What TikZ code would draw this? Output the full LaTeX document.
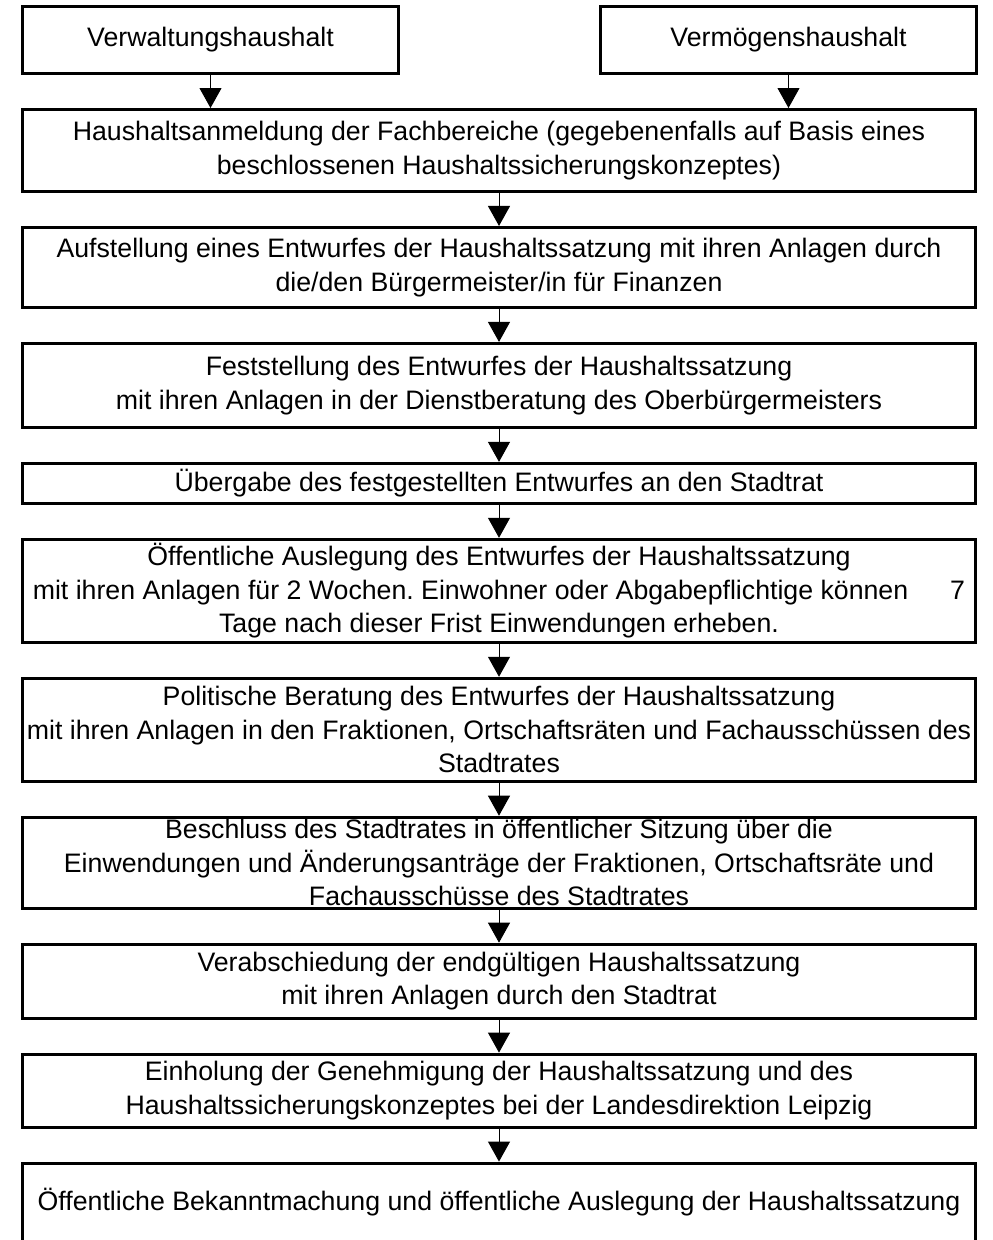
\documentclass[tikz,border=0pt]{standalone}
\usepackage{fontspec}
\setmainfont{Liberation Sans}
\frenchspacing
\usetikzlibrary{arrows.meta,positioning}

\begin{document}
\begin{tikzpicture}[->, >={Triangle[length=0.5cm,width=0.55cm]}, line width=0.7pt, node distance=0.825cm]
    \tikzstyle{box}=[draw=black,line width=2.1pt,align=center,inner sep=0pt,font=\fontsize{19}{23.8}\selectfont,minimum width=23.825cm]
    \tikzstyle{topbox}=[box,minimum width=9.4cm,minimum height=1.675cm]

    \useasboundingbox (0,0) rectangle (24.825,-31);

    \node[topbox] (VW) at (5.2625,-1.0)  {Verwaltungshaushalt};
    \node[topbox] (VM) at (19.7125,-1.0) {Vermögenshaushalt};

    \node[box,minimum height=2.05cm,anchor=north] (b1) at (12.475,-2.7)
        {Haushaltsanmeldung der Fachbereiche (gegebenenfalls auf Basis eines\\beschlossenen Haushaltssicherungskonzeptes)};
    \node[box,minimum height=2.0cm]   (b2)[below=of b1]
        {Aufstellung eines Entwurfes der Haushaltssatzung mit ihren Anlagen durch\\die/den Bürgermeister/in für Finanzen};
    \node[box,minimum height=2.1cm]   (b3)[below=of b2]
        {Feststellung des Entwurfes der Haushaltssatzung\\mit ihren Anlagen in der Dienstberatung des Oberbürgermeisters};
    \node[box,minimum height=1.0cm]   (b4)[below=of b3]
        {Übergabe des festgestellten Entwurfes an den Stadtrat};
    \node[box,minimum height=2.575cm] (b5)[below=of b4]
        {Öffentliche Auslegung des Entwurfes der Haushaltssatzung\\mit ihren Anlagen für 2 Wochen. Einwohner oder Abgabepflichtige können\hspace{1.05cm}7\\Tage nach dieser Frist Einwendungen erheben.};
    \node[box,minimum height=2.575cm] (b6)[below=of b5]
        {Politische Beratung des Entwurfes der Haushaltssatzung\\mit ihren Anlagen in den Fraktionen, Ortschaftsräten und Fachausschüssen des\\Stadtrates};
    \node[box,minimum height=2.275cm] (b7)[below=of b6]
        {Beschluss des Stadtrates in öffentlicher Sitzung über die\\Einwendungen und Änderungsanträge der Fraktionen, Ortschaftsräte und\\Fachausschüsse des Stadtrates};
    \node[box,minimum height=1.85cm]  (b8)[below=of b7]
        {Verabschiedung der endgültigen Haushaltssatzung\\mit ihren Anlagen durch den Stadtrat};
    \node[box,minimum height=1.825cm] (b9)[below=of b8]
        {Einholung der Genehmigung der Haushaltssatzung und des\\Haushaltssicherungskonzeptes bei der Landesdirektion Leipzig};
    \node[box,minimum height=1.95cm]  (b10)[below=of b9]
        {Öffentliche Bekanntmachung und öffentliche Auslegung der Haushaltssatzung};

    \draw (VW) -- (VW |- b1.north);
    \draw (VM) -- (VM |- b1.north);

    \path
    (b1) edge (b2)
    (b2) edge (b3)
    (b3) edge (b4)
    (b4) edge (b5)
    (b5) edge (b6)
    (b6) edge (b7)
    (b7) edge (b8)
    (b8) edge (b9)
    (b9) edge (b10);

\end{tikzpicture}
\end{document}
